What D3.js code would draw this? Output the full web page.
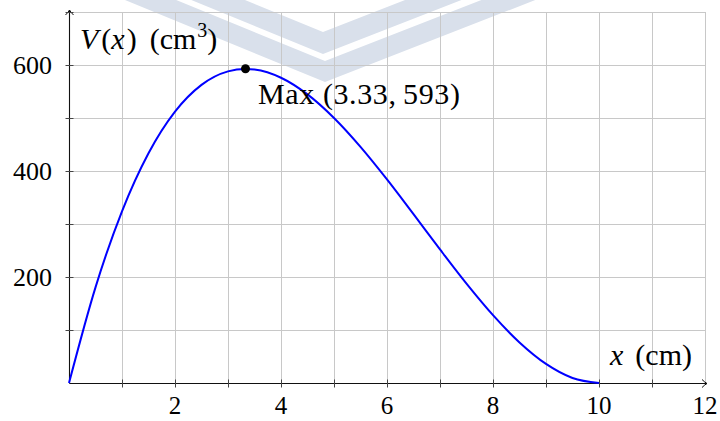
<!DOCTYPE html>
<html>
<head>
<meta charset="utf-8">
<script src="https://cdn.jsdelivr.net/npm/d3@7"></script>
<style>
  body { margin: 0; background: #fff; }
  svg { display: block; }
  text { font-family: "Liberation Serif", "DejaVu Serif", serif; fill: #000; }
</style>
</head>
<body>
<div id="chart"></div>
<script>
// values: V(x) in cm^3
var xValues = [0, 0.5, 1, 1.5, 2, 2.5, 3, 3.33, 3.5, 4, 4.5, 5, 5.5, 6, 6.5, 7, 7.5, 8, 8.5, 9, 9.5, 10];
var vValues = [0, 180.5, 324, 433.5, 512, 562.5, 588, 592.6, 591.5, 576, 544.5, 500, 445.5, 384, 318.5, 252, 187.5, 128, 76.5, 36, 9.5, 0];
var maxPoint = [3.33, 593];
var maxLabel = "Max (3.33,\u2009593)";
var xTickLabels = [2, 4, 6, 8, 10, 12];
var yTickLabels = [200, 400, 600];

var width = 720, height = 421;
var marginLeft = 69, marginRight = 15, marginTop = 12, marginBottom = 38;

var svg = d3.select("#chart").append("svg")
    .attr("width", width)
    .attr("height", height);

var xScale = d3.scaleLinear([0, 12], [marginLeft, width - marginRight]);
var yScale = d3.scaleLinear([0, 700], [height - marginBottom, marginTop]);

// watermark chevrons in the background
var wm = svg.append("g").attr("fill", "#d9e0eb");
function chevron(topY, botY, vx, sl, sr) {
    return "M" + (vx - botY / sl) + ",0 L" + vx + "," + botY + " L" + (vx + botY / sr) + ",0 " +
        "L" + (vx + topY / sr) + ",0 L" + vx + "," + topY + " L" + (vx - topY / sl) + ",0 Z";
}
wm.append("path").attr("d", chevron(61, 82, 325, 0.41, 0.39));
wm.append("path").attr("d", chevron(32, 54, 323, 0.41, 0.39));

// grid
var grid = svg.append("g").attr("stroke", "#c8c8c8").attr("stroke-width", 1);
grid.selectAll("line.v")
    .data(d3.range(1, 13))
    .join("line")
    .attr("x1", d => Math.round(xScale(d)) + 0.5)
    .attr("x2", d => Math.round(xScale(d)) + 0.5)
    .attr("y1", yScale(0))
    .attr("y2", yScale(700));
grid.selectAll("line.h")
    .data(d3.range(100, 701, 100))
    .join("line")
    .attr("class", "h")
    .attr("x1", xScale(0))
    .attr("x2", xScale(12))
    .attr("y1", d => Math.round(yScale(d)) + 0.5)
    .attr("y2", d => Math.round(yScale(d)) + 0.5);

// axes
var axisColor = "#111";
var x0 = Math.round(xScale(0)) + 0.5, y0 = Math.round(yScale(0)) + 0.5;
svg.append("line")
    .attr("x1", x0).attr("x2", xScale(12) + 2)
    .attr("y1", y0).attr("y2", y0)
    .attr("stroke", axisColor).attr("stroke-width", 1.1);
svg.append("line")
    .attr("x1", x0).attr("x2", x0)
    .attr("y1", y0).attr("y2", yScale(700) - 2)
    .attr("stroke", axisColor).attr("stroke-width", 1.1);
// arrow heads
var xe = xScale(12) + 2, ye = yScale(700) - 2;
svg.append("path")
    .attr("d", "M" + (xe - 5) + "," + (y0 - 4) + " Q" + (xe - 2) + "," + (y0 - 1) + " " + xe + "," + y0 +
        " Q" + (xe - 2) + "," + (y0 + 1) + " " + (xe - 5) + "," + (y0 + 4))
    .attr("fill", "none").attr("stroke", axisColor).attr("stroke-width", 1);
svg.append("path")
    .attr("d", "M" + (x0 - 4) + "," + (ye + 5) + " Q" + (x0 - 1) + "," + (ye + 2) + " " + x0 + "," + ye +
        " Q" + (x0 + 1) + "," + (ye + 2) + " " + (x0 + 4) + "," + (ye + 5))
    .attr("fill", "none").attr("stroke", axisColor).attr("stroke-width", 1);

// tick marks
svg.append("g").selectAll("line")
    .data(d3.range(1, 12))
    .join("line")
    .attr("x1", d => Math.round(xScale(d)) + 0.5)
    .attr("x2", d => Math.round(xScale(d)) + 0.5)
    .attr("y1", y0 - 4).attr("y2", y0 + 4)
    .attr("stroke", "#444").attr("stroke-width", 1);
svg.append("g").selectAll("line")
    .data(d3.range(100, 701, 100))
    .join("line")
    .attr("y1", d => Math.round(yScale(d)) + 0.5)
    .attr("y2", d => Math.round(yScale(d)) + 0.5)
    .attr("x1", x0 - 4).attr("x2", x0 + 4)
    .attr("stroke", "#444").attr("stroke-width", 1);

// tick labels
svg.append("g").selectAll("text")
    .data(xTickLabels)
    .join("text")
    .attr("x", d => xScale(d))
    .attr("y", 414)
    .attr("text-anchor", "middle")
    .attr("font-size", 25)
    .text(d => d);
svg.append("g").selectAll("text")
    .data(yTickLabels)
    .join("text")
    .attr("x", 52)
    .attr("y", d => yScale(d) + 8.5)
    .attr("text-anchor", "end")
    .attr("font-size", 26)
    .text(d => d);

// curve
var line = d3.line()
    .x((d, i) => xScale(xValues[i]))
    .y(d => yScale(d))
    .curve(d3.curveMonotoneX);
svg.append("path")
    .datum(vValues)
    .attr("d", line)
    .attr("fill", "none")
    .attr("stroke", "#0000ff")
    .attr("stroke-width", 2);

// max point
svg.append("circle")
    .attr("cx", xScale(maxPoint[0]))
    .attr("cy", yScale(maxPoint[1]))
    .attr("r", 4.5)
    .attr("fill", "#000");
svg.append("text")
    .attr("x", 258)
    .attr("y", 104)
    .attr("font-size", 30)
    .attr("letter-spacing", 0.6)
    .text(maxLabel);

// axis labels
var yl = svg.append("text")
    .attr("x", 80)
    .attr("y", 49)
    .attr("font-size", 30);
yl.append("tspan").attr("font-style", "italic").text("V");
yl.append("tspan").attr("dx", 3).text("(");
yl.append("tspan").attr("font-style", "italic").text("x");
yl.append("tspan").attr("dx", 2).text(")");
yl.append("tspan").attr("dx", 13).text("(cm");
yl.append("tspan").attr("font-size", 20).attr("dy", -12).attr("dx", 1).text("3");
yl.append("tspan").attr("dy", 12).text(")");

var xl = svg.append("text")
    .attr("x", 692)
    .attr("y", 365)
    .attr("text-anchor", "end")
    .attr("font-size", 30);
xl.append("tspan").attr("font-style", "italic").text("x");
xl.append("tspan").attr("dx", 12).text("(cm)");
</script>
</body>
</html>
